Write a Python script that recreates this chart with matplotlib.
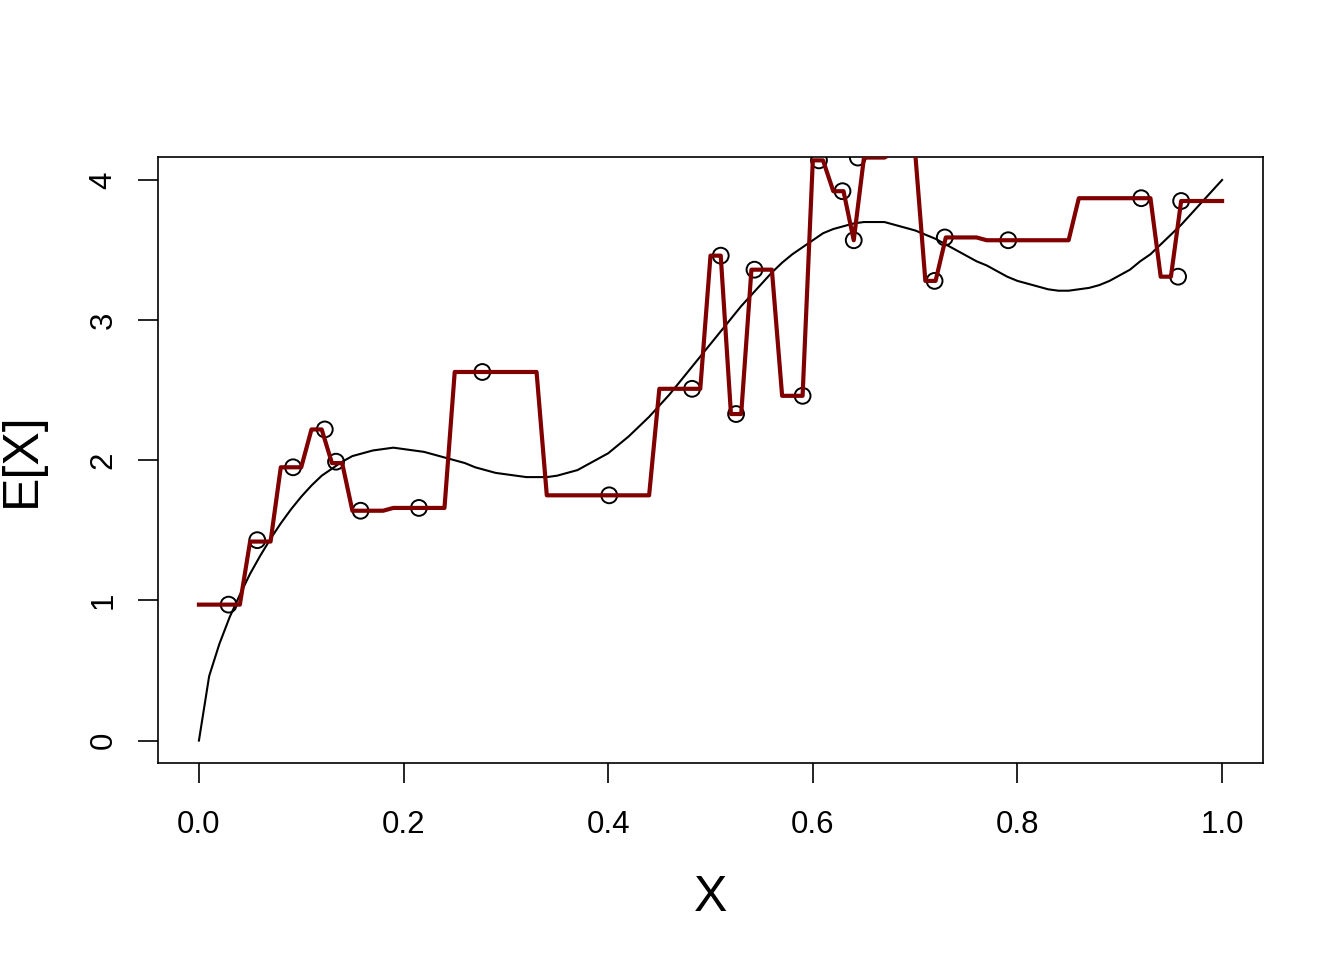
import matplotlib.pyplot as plt

plt.rcParams['font.family'] = ['Liberation Sans', 'DejaVu Sans']

# grid of x used for both lines
grid_x = [i / 100 for i in range(101)]

# smooth curve
curve_y = [
    0.00, 0.46, 0.69, 0.88, 1.04, 1.19, 1.32, 1.44, 1.55, 1.65,
    1.74, 1.82, 1.89, 1.94, 1.99, 2.03, 2.05, 2.07, 2.08, 2.09,
    2.08, 2.07, 2.06, 2.04, 2.02, 2.00, 1.98, 1.95, 1.93, 1.91,
    1.90, 1.89, 1.88, 1.88, 1.88, 1.89, 1.91, 1.93, 1.97, 2.01,
    2.05, 2.11, 2.17, 2.24, 2.31, 2.39, 2.47, 2.56, 2.65, 2.74,
    2.83, 2.92, 3.01, 3.10, 3.18, 3.26, 3.34, 3.41, 3.47, 3.52,
    3.57, 3.62, 3.65, 3.67, 3.69, 3.70, 3.70, 3.70, 3.68, 3.66,
    3.64, 3.61, 3.58, 3.54, 3.50, 3.46, 3.42, 3.39, 3.35, 3.31,
    3.28, 3.26, 3.24, 3.22, 3.21, 3.21, 3.22, 3.23, 3.25, 3.28,
    3.32, 3.36, 3.42, 3.47, 3.54, 3.61, 3.68, 3.76, 3.84, 3.92,
    4.00,
]

# step-like fit (dark red)
fit_y = (
    [0.97] * 5 + [1.42] * 3 + [1.95] * 3 + [2.22] * 2 + [1.98] * 2
    + [1.64] * 4 + [1.66] * 6 + [2.63] * 9 + [1.75] * 11 + [2.51] * 5
    + [3.46] * 2 + [2.33] * 2 + [3.36] * 3 + [2.46] * 3 + [4.14] * 2
    + [3.92] * 2 + [3.57] * 1 + [4.16] * 3 + [4.20] * 3 + [3.28] * 2
    + [3.59] * 4 + [3.57] * 9 + [3.87] * 8 + [3.31] * 2 + [3.85] * 5
)

# observed points
pt_x = [0.029, 0.057, 0.092, 0.123, 0.134, 0.158, 0.215, 0.277, 0.401,
        0.482, 0.510, 0.525, 0.543, 0.590, 0.606, 0.629, 0.640, 0.644,
        0.719, 0.729, 0.791, 0.921, 0.957, 0.960]
pt_y = [0.97, 1.43, 1.95, 2.22, 1.99, 1.64, 1.66, 2.63, 1.75,
        2.51, 3.46, 2.33, 3.36, 2.46, 4.14, 3.92, 3.57, 4.16,
        3.28, 3.59, 3.57, 3.87, 3.31, 3.85]

fig = plt.figure(figsize=(13.44, 9.6), dpi=100)
ax = fig.add_axes([158 / 1344, 1 - 763 / 960, 1105 / 1344, 606 / 960])

ax.plot(grid_x, curve_y, color='black', lw=1.5)
ax.scatter(pt_x, pt_y, s=130, facecolors='none', edgecolors='black', linewidths=1.4, zorder=3)
ax.plot(grid_x, fit_y, color='#800000', lw=3.0, zorder=4)

ax.set_xlim(-0.04, 1.04)
ax.set_ylim(-0.16, 4.164)
ax.set_xticks([0, 0.2, 0.4, 0.6, 0.8, 1.0])
ax.set_xticklabels(['0.0', '0.2', '0.4', '0.6', '0.8', '1.0'])
ax.set_yticks([0, 1, 2, 3, 4])

for s in ax.spines.values():
    s.set_linewidth(1.2)
ax.tick_params(axis='both', direction='out', length=14.5, width=1.2, labelsize=22.5)
ax.tick_params(axis='x', pad=19)
ax.tick_params(axis='y', pad=14, labelrotation=90)
for lab in ax.get_yticklabels():
    lab.set_va('center')

ax.set_xlabel('X', fontsize=36)
ax.set_ylabel('E[X]', fontsize=36)
ax.xaxis.label.set_va('center')
ax.yaxis.label.set_va('center')
ax.xaxis.set_label_coords(0.5, -135 / 606)
ax.yaxis.set_label_coords(-136 / 1105, 0.5)

fig.savefig('out.png', dpi=100)
